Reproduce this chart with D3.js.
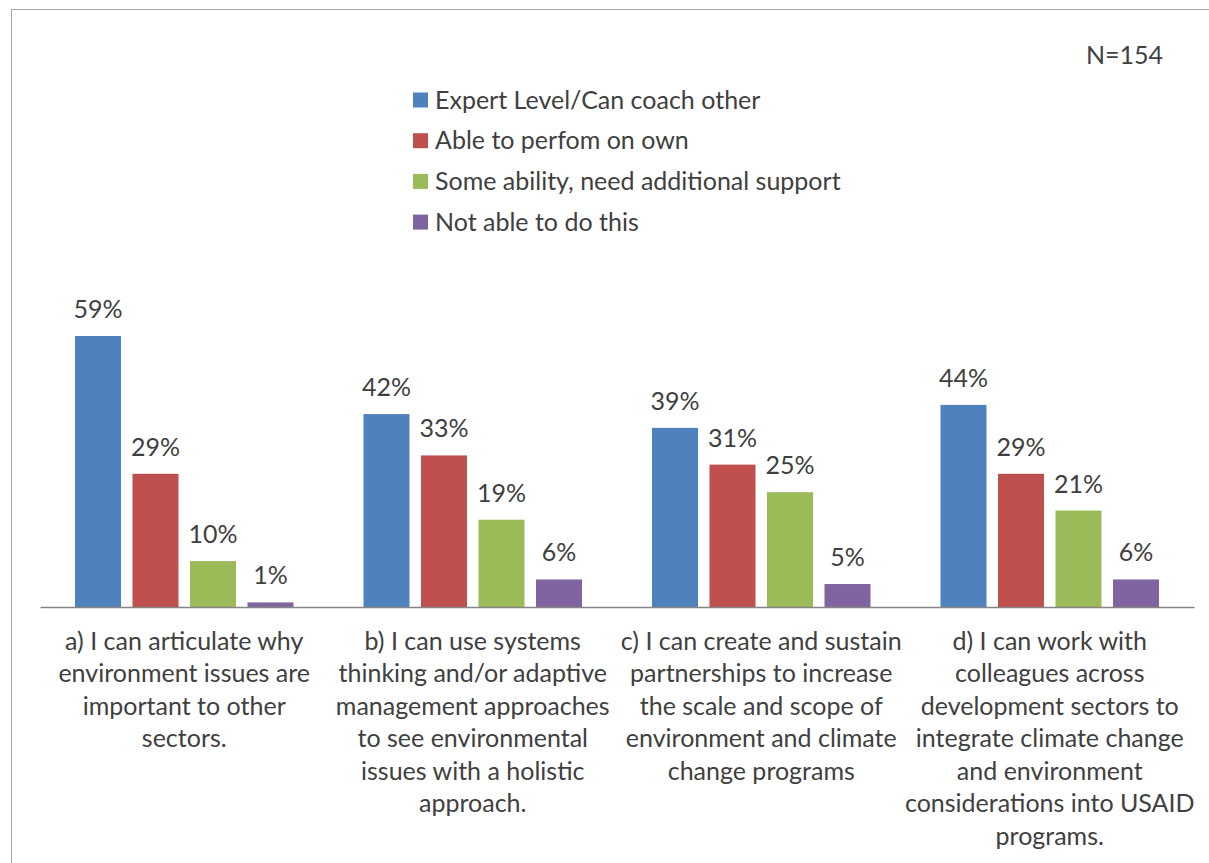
<!DOCTYPE html>
<html>
<head>
<meta charset="utf-8">
<script src="https://cdn.jsdelivr.net/npm/d3@7"></script>
<style>
  html, body { margin: 0; padding: 0; background: #fff; }
  svg { display: block; }
  text { font-family: Lato, "Open Sans", sans-serif; fill: #404040; }
</style>
</head>
<body>
<svg id="chart" width="1209" height="863"></svg>
<script>
// Survey response shares (%) per competency statement
const categories = [
  ["a) I can articulate why", "environment issues are", "important to other", "sectors."],
  ["b) I can use systems", "thinking and/or adaptive", "management approaches", "to see environmental", "issues with a holistic", "approach."],
  ["c) I can create and sustain", "partnerships to increase", "the scale and scope of", "environment and climate", "change programs"],
  ["d) I can work with", "colleagues across", "development sectors to", "integrate climate change", "and environment", "considerations into USAID", "programs."]
];
const seriesNames = [
  "Expert Level/Can coach other",
  "Able to perfom on own",
  "Some ability, need additional support",
  "Not able to do this"
];
const expertLevel = [59, 42, 39, 44];
const ableOnOwn = [29, 33, 31, 29];
const someAbility = [10, 19, 25, 21];
const notAble = [1, 6, 5, 6];
const sampleNote = "N=154";

const seriesValues = [expertLevel, ableOnOwn, someAbility, notAble];
const colors = ["#4F81BD", "#C0504D", "#9BBB59", "#8064A2"];

const svg = d3.select("#chart");
const fontSize = 25;

// outer chart frame (only left and top edges fall inside the view)
svg.append("rect")
  .attr("x", 11.5).attr("y", 9.5)
  .attr("width", 1300).attr("height", 1000)
  .attr("fill", "none").attr("stroke", "#a6a6a6").attr("stroke-width", 1);

const plot = { left: 40, right: 1194, bottom: 607 };

const x0 = d3.scaleBand()
  .domain(d3.range(categories.length))
  .range([plot.left, plot.right])
  .paddingInner(0).paddingOuter(0);

const x1 = d3.scaleBand()
  .domain(d3.range(seriesNames.length))
  .range([35, x0.bandwidth() - 35])
  .paddingInner(0.2);

const y = d3.scaleLinear().domain([0, 70]).range([plot.bottom, plot.bottom - 70 * 4.593]);

const rows = categories.map((c, i) => seriesValues.map((s, j) => ({ cat: i, ser: j, v: s[i] })));

const groups = svg.append("g").selectAll("g")
  .data(rows).join("g")
  .attr("transform", (d, i) => `translate(${x0(i)},0)`);

groups.selectAll("rect")
  .data(d => d).join("rect")
  .attr("x", d => x1(d.ser))
  .attr("y", d => y(d.v))
  .attr("width", x1.bandwidth())
  .attr("height", d => y(0) - y(d.v))
  .attr("fill", d => colors[d.ser]);

groups.selectAll("text.val")
  .data(d => d).join("text")
  .attr("class", "val")
  .attr("x", d => x1(d.ser) + x1.bandwidth() / 2)
  .attr("y", d => y(d.v) - 18)
  .attr("text-anchor", "middle")
  .style("font-size", fontSize + "px")
  .text(d => d.v + "%");

// category axis
const xAxis = d3.axisBottom(x0).tickSize(0).tickFormat("");
const axisG = svg.append("g").attr("transform", `translate(0,${plot.bottom})`).call(xAxis);
axisG.select(".domain").attr("stroke", "#868686").attr("stroke-width", 1.3);

const lineH = 32.5;
svg.append("g").selectAll("text")
  .data(categories).join("text")
  .attr("text-anchor", "middle")
  .style("font-size", fontSize + "px")
  .each(function(lines, i) {
    d3.select(this).selectAll("tspan")
      .data(lines).join("tspan")
      .attr("x", x0(i) + x0.bandwidth() / 2)
      .attr("y", (l, k) => 641 + k * lineH)
      .attr("dy", "0.35em")
      .text(l => l);
  });

// legend
const legend = svg.append("g").attr("transform", "translate(413,100)");
const item = legend.selectAll("g").data(seriesNames).join("g")
  .attr("transform", (d, i) => `translate(0,${i * 40.7})`);
item.append("rect").attr("x", 0).attr("y", -7.5).attr("width", 15).attr("height", 15)
  .attr("fill", (d, i) => colors[i]);
item.append("text").attr("x", 22).attr("dy", "0.35em")
  .style("font-size", fontSize + "px").text(d => d);

svg.append("text")
  .attr("x", 1163).attr("y", 55).attr("dy", "0.35em")
  .attr("text-anchor", "end")
  .style("font-size", fontSize + "px")
  .text(sampleNote);
</script>
</body>
</html>
